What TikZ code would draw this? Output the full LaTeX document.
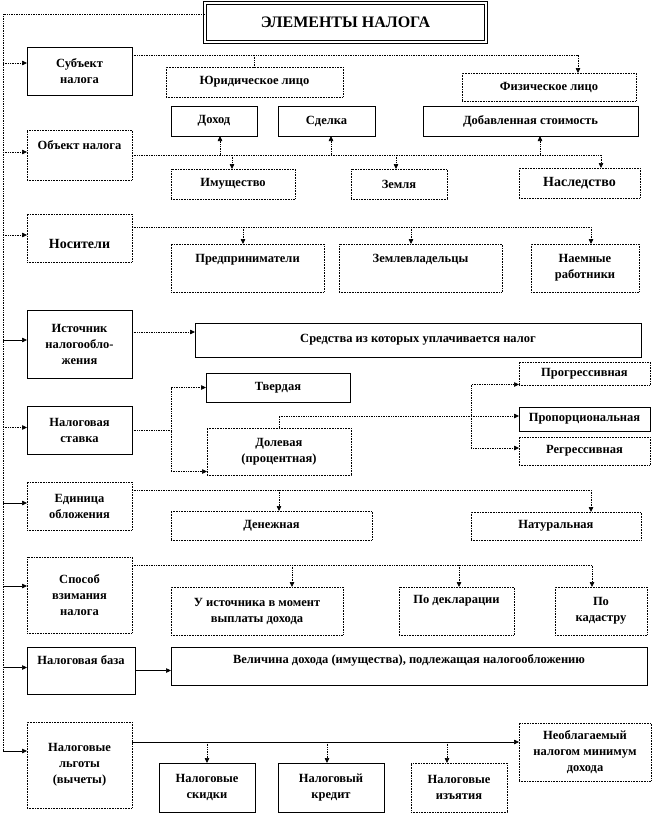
\documentclass[tikz,border=0pt]{standalone}
\usepackage{fontspec}
\setmainfont{Liberation Serif}
\usepackage{tikz}
\usetikzlibrary{arrows.meta,calc}
\definecolor{TaxInk}{HTML}{000000}

\begin{document}
\begin{tikzpicture}[x=1pt,y=-1pt,
      >={Triangle[length=5pt,width=4.5pt]},
      link/.style={densely dotted,line width=0.7pt,draw=TaxInk},
      solidlink/.style={line width=0.7pt,draw=TaxInk},
      box/.style={draw=TaxInk,line width=0.6pt,fill=white,align=center,
        inner sep=2pt,outer sep=0pt,font=\bfseries\fontsize{12.5}{16}\selectfont},
      dbox/.style={box,densely dotted},
      side/.style={minimum width=105pt},
      raised/.style={text height=9pt,text depth=#1},
      bigtext/.style={font=\bfseries\fontsize{14}{16}\selectfont}
    ]
    \useasboundingbox (0,0) rectangle (654,814);
    \node[box,double=white,double distance=1.6pt,line width=0.8pt,
      font=\bfseries\fontsize{16}{18}\selectfont,
      minimum width=281pt,minimum height=39pt] (title) at (345.5,22.5) {ЭЛЕМЕНТЫ НАЛОГА};

    \node[box,side,minimum height=48pt] (subj) at (79.5,71) {Субъект\\налога};
    \node[dbox,side,raised=21pt,minimum height=50pt] (obj) at (79.5,155) {Объект налога};
    \node[dbox,side,bigtext,text height=23pt,text depth=3pt,minimum height=48pt] (nos) at (79.5,238) {Носители};
    \node[box,side,minimum height=68pt] (ist) at (79.5,344) {Источник\\налогообло-\\жения};
    \node[box,side,minimum height=48pt] (stav) at (79.5,430.5) {Налоговая\\ставка};
    \node[dbox,side,minimum height=48pt] (edin) at (79.5,506) {Единица\\обложения};
    \node[dbox,side,minimum height=76pt] (spos) at (79.5,595) {Способ\\взимания\\налога};
    \node[box,raised=22pt,minimum width=108pt,minimum height=47pt] (baza) at (81,670.5) {Налоговая база};
    \node[dbox,side,minimum height=86pt] (lgoty) at (79.5,765) {Налоговые\\льготы\\(вычеты)};

    \node[dbox,minimum width=177pt,minimum height=30pt] (yur) at (254.5,82) {Юридическое лицо};
    \node[dbox,minimum width=174pt,minimum height=28pt] (fiz) at (549,87) {Физическое лицо};
    \node[box,minimum width=86pt,minimum height=30pt] (dohod) at (214,121) {Доход};
    \node[box,minimum width=97pt,minimum height=30pt] (sdelka) at (326.5,121) {Сделка};
    \node[box,minimum width=215pt,minimum height=30pt] (dobav) at (530.5,121) {Добавленная стоимость};
    \node[dbox,minimum width=124pt,minimum height=30pt] (imush) at (233,184) {Имущество};
    \node[dbox,minimum width=96pt,minimum height=30pt] (zemlya) at (399,184) {Земля};
    \node[dbox,bigtext,minimum width=121pt,minimum height=30pt] (nasl) at (579.5,183) {Наследство};

    \node[dbox,raised=21pt,minimum width=153pt,minimum height=48pt] (pred) at (247.5,268) {Предприниматели};
    \node[dbox,raised=21pt,minimum width=163pt,minimum height=48pt] (zemlev) at (420.5,268) {Землевладельцы};
    \node[dbox,minimum width=108pt,minimum height=48pt] (naem) at (585,268) {Наемные\\работники};

    \node[box,minimum width=446pt,minimum height=34pt] (sredstva) at (418,340)
      {Средства из которых уплачивается налог};

    \node[box,minimum width=144pt,minimum height=29pt] (tverd) at (278,387.5) {Твердая};
    \node[dbox,minimum width=144pt,minimum height=47pt] (dolev) at (279,451.5) {Долевая\\(процентная)};
    \node[dbox,minimum width=131pt,minimum height=23pt] (progr) at (584.5,373.5) {Прогрессивная};
    \node[box,minimum width=131pt,minimum height=24pt] (propor) at (584.5,419) {Пропорциональная};
    \node[dbox,minimum width=131pt,minimum height=28pt] (regr) at (584.5,451) {Регрессивная};

    \node[dbox,minimum width=201pt,minimum height=29pt] (den) at (271.5,525.5) {Денежная};
    \node[dbox,minimum width=170pt,minimum height=28pt] (nat) at (556,526) {Натуральная};

    \node[dbox,minimum width=172pt,minimum height=48pt] (istoch) at (257,611) {У источника в момент\\выплаты дохода};
    \node[dbox,raised=25pt,minimum width=115pt,minimum height=48pt] (dekl) at (456.5,611) {По декларации};
    \node[dbox,minimum width=92pt,minimum height=48pt] (kadastr) at (601,611) {По\\кадастру};

    \node[box,raised=15pt,minimum width=476pt,minimum height=38pt] (velich) at (409,666)
      {Величина дохода (имущества), подлежащая налогообложению};

    \node[box,minimum width=96pt,minimum height=49pt] (skidki) at (207,787.5) {Налоговые\\скидки};
    \node[box,minimum width=106pt,minimum height=49pt] (kredit) at (331,787.5) {Налоговый\\кредит};
    \node[dbox,minimum width=96pt,minimum height=49pt] (izyat) at (459,787.5) {Налоговые\\изъятия};
    \node[dbox,minimum width=132pt,minimum height=58pt] (neobl) at (585,752) {Необлагаемый\\налогом минимум\\дохода};

    \coordinate (spTop) at (3,14);
    \foreach \n/\s/\k in {subj/8pt/link,obj/3pt/link,nos/3pt/link,ist/4pt/solidlink,
        stav/3pt/link,edin/3pt/solidlink,spos/9pt/solidlink,baza/3pt/solidlink,lgoty/14pt/solidlink}{
      \coordinate (in-\n) at ([yshift=\s]\n.west);
      \draw[\k,->] (in-\n -| spTop) -- (in-\n);
    }
    \draw[link] (title.west |- spTop) -- (spTop) -- (in-lgoty -| spTop);

    \coordinate (subjOut) at ([yshift=16pt]subj.east);
    \draw[link,->] (subjOut) -| ([xshift=29pt]fiz.north);
    \draw[link] (subjOut -| yur.north) -- (yur.north);

    \draw[link,->] (obj.east) -| ([xshift=21.5pt]nasl.north);
    \foreach \b/\s in {dohod/6pt,sdelka/4.5pt,dobav/9.5pt}{
      \coordinate (up-\b) at ([xshift=\s]\b.south);
      \draw[link,->] (up-\b |- obj.east) -- (up-\b);
    }
    \foreach \b/\s in {imush/-1pt,zemlya/-3pt}{
      \coordinate (dn-\b) at ([xshift=\s]\b.north);
      \draw[link,->] (dn-\b |- obj.east) -- (dn-\b);
    }

    \coordinate (nosOut) at ([yshift=11pt]nos.east);
    \draw[link,->] (nosOut) -| ([xshift=6pt]naem.north);
    \foreach \b/\s in {pred/-4.5pt,zemlev/-9.5pt}{
      \coordinate (dn-\b) at ([xshift=\s]\b.north);
      \draw[link,->] (dn-\b |- nosOut) -- (dn-\b);
    }

    \coordinate (istOut) at ([yshift=12pt]ist.east);
    \draw[link,->] (istOut) -- (istOut -| sredstva.west);

    \draw[link] (stav.east) -- ++(39,0) coordinate (stavJ);
    \draw[link,->] (stavJ) |- (tverd.west);
    \draw[link,->] (stavJ) |- ([yshift=-20pt]dolev.west);
    \draw[link,->] (dolev.north) |- ([yshift=3pt]propor.west);
    \coordinate (propJ) at ([xshift=-48pt,yshift=3pt]propor.west);
    \draw[link,->] (propJ) |- ([yshift=-11pt]progr.west);
    \draw[link,->] (propJ) |- ([yshift=3pt]regr.west);

    \coordinate (edinOut) at ([yshift=16pt]edin.east);
    \draw[link,->] (edinOut) -| ([xshift=35pt]nat.north);
    \coordinate (dn-den) at ([xshift=7.5pt]den.north);
    \draw[link,->] (dn-den |- edinOut) -- (dn-den);

    \coordinate (sposOut) at ([yshift=30pt]spos.east);
    \draw[link,->] (sposOut) -| ([xshift=-9pt]kadastr.north);
    \foreach \b/\s in {istoch/35pt,dekl/2.5pt}{
      \coordinate (dn-\b) at ([xshift=\s]\b.north);
      \draw[link,->] (dn-\b |- sposOut) -- (dn-\b);
    }

    \draw[solidlink,->] (baza.east) -- (baza.east -| velich.west);

    \coordinate (lgOut) at ([yshift=23pt]lgoty.east);
    \draw[solidlink,->] (lgOut) -- (lgOut -| neobl.west);
    \foreach \b/\s in {skidki/0pt,kredit/-4pt,izyat/-12pt}{
      \coordinate (dn-\b) at ([xshift=\s]\b.north);
      \draw[link,->] (dn-\b |- lgOut) -- (dn-\b);
    }
  \end{tikzpicture}
\end{document}
